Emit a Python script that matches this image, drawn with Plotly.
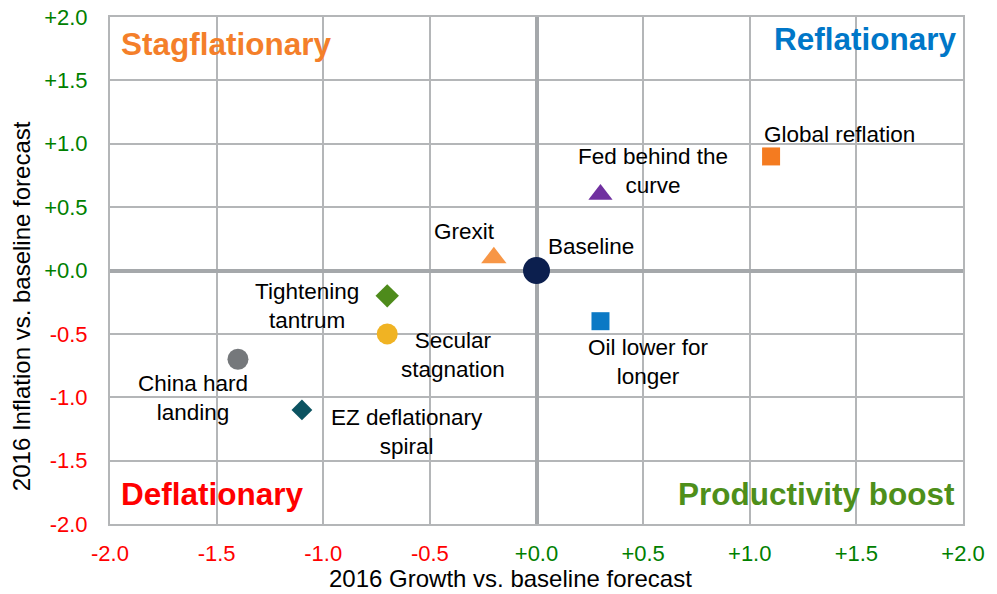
import plotly.graph_objects as go

# ---------- data ----------
scenarios = ['Baseline', 'Grexit', 'Fed behind the<br>curve', 'Global reflation',
             'Oil lower for<br>longer', 'Tightening<br>tantrum', 'Secular<br>stagnation',
             'China hard<br>landing', 'EZ deflationary<br>spiral']
growth = [0.0, -0.2, 0.3, 1.1, 0.3, -0.7, -0.7, -1.4, -1.1]
inflation = [0.0, 0.1, 0.6, 0.9, -0.4, -0.2, -0.5, -0.7, -1.1]

tick_vals = [-2.0, -1.5, -1.0, -0.5, 0.0, 0.5, 1.0, 1.5, 2.0]
tick_labels = ['-2.0', '-1.5', '-1.0', '-0.5', '+0.0', '+0.5', '+1.0', '+1.5', '+2.0']

quadrants = ['Stagflationary', 'Reflationary', 'Deflationary', 'Productivity boost']

# ---------- styles ----------
symbols = ['circle', 'triangle-up', 'triangle-up', 'square', 'square',
           'diamond', 'circle', 'circle', 'diamond']
sizes = [27, 22, 21, 18, 18, 18, 21, 21, 16]
colours = ['#0C1F4E', '#F79646', '#7030A0', '#F47B20', '#0B79C5',
           '#4E8B1B', '#F0B323', '#75787B', '#0C5361']
# label offsets in pixels (x, y up)
offsets = [(54, 24), (-29, 26), (53, 23), (68, 22), (48, -41),
           (-80, -10), (66, -21), (-45, -39), (105, -22)]

FONT = 'Arial, Liberation Sans, sans-serif'
GRID = '#B4B6B8'

def colour_tick(t):
    col = '#FF0000' if t.startswith('-') else '#008000'
    return "<span style='color:%s'>%s</span>" % (col, t)

ticktext = [colour_tick(t) for t in tick_labels]

fig = go.Figure()

fig.add_trace(go.Scatter(
    x=growth, y=inflation, mode='markers',
    marker=dict(symbol=symbols, size=sizes, color=colours, opacity=1, line=dict(width=0)),
    hovertext=[s.replace('<br>', ' ') for s in scenarios], hoverinfo='text',
    showlegend=False))

annotations = []
for name, gx, iy, (dx, dy) in zip(scenarios, growth, inflation, offsets):
    annotations.append(dict(x=gx, y=iy, xref='x', yref='y', text=name, showarrow=False,
                            xshift=dx, yshift=dy, align='center',
                            font=dict(family=FONT, size=22.5, color='#000000')))

# quadrant titles
q_cols = ['#F47F2A', '#0077C8', '#FF0000', '#4E8F1A']
q_pos = [(0.010, 0.946, 'left'), (0.995, 0.956, 'right'),
         (0.011, 0.059, 'left'), (0.993, 0.059, 'right')]
for q, c, (px, py, anc) in zip(quadrants, q_cols, q_pos):
    annotations.append(dict(x=px, y=py, xref='paper', yref='paper', text='<b>%s</b>' % q,
                            showarrow=False, xanchor=anc, yanchor='middle',
                            font=dict(family=FONT, size=31.5, color=c)))

# axis titles
annotations.append(dict(x=0.470, y=-0.107, xref='paper', yref='paper',
                        text='2016 Growth vs. baseline forecast', showarrow=False,
                        xanchor='center', yanchor='middle',
                        font=dict(family=FONT, size=24, color='#000000')))
annotations.append(dict(x=-0.103, y=0.43, xref='paper', yref='paper',
                        text='2016 Inflation vs. baseline forecast', showarrow=False,
                        textangle=-90, xanchor='center', yanchor='middle',
                        font=dict(family=FONT, size=24, color='#000000')))

axis_common = dict(range=[-2, 2], tickvals=tick_vals, ticktext=ticktext,
                   showgrid=True, gridcolor=GRID, gridwidth=2,
                   zeroline=True, zerolinecolor='#A5A8AB', zerolinewidth=4,
                   showline=True, linecolor=GRID, linewidth=2, mirror=True,
                   ticks='outside', tickcolor='rgba(0,0,0,0)', automargin=False,
                   tickfont=dict(family=FONT, size=22))

fig.update_layout(
    width=997, height=594,
    margin=dict(l=110, r=34, t=17, b=70),
    plot_bgcolor='white', paper_bgcolor='white',
    xaxis=dict(axis_common, ticklen=9), yaxis=dict(axis_common, ticklen=16),
    annotations=annotations,
    font=dict(family=FONT),
)

fig.write_html('out.html', config={'displayModeBar': False},
               post_script="document.body.style.margin='0';")
